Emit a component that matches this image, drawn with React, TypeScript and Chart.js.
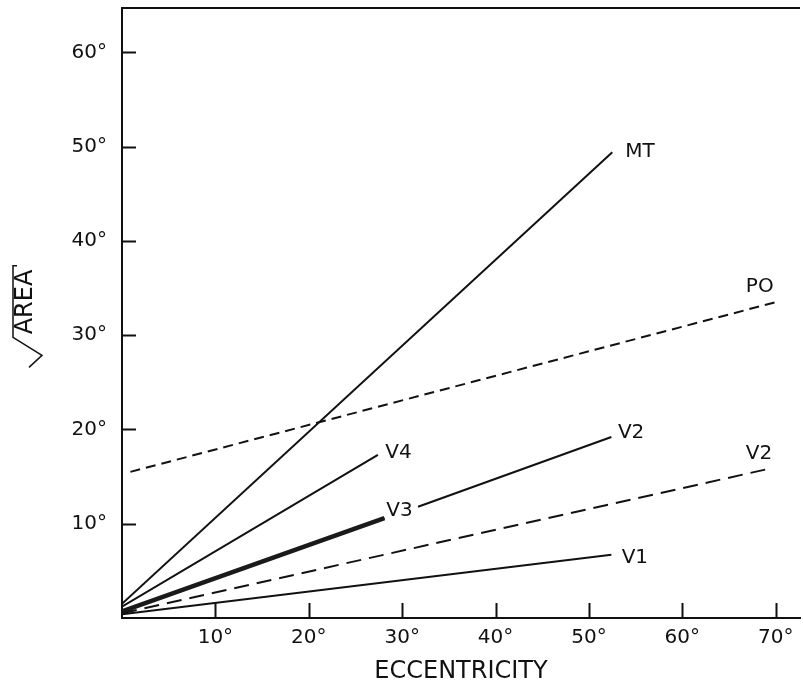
import React, { useEffect, useRef } from 'react';
import { Chart, registerables } from 'chart.js';

Chart.register(...registerables);

// Axis ranges and ticks (degrees)
const xMin = 0;
const xMax = 72.6;
const yMin = 0;
const yMax = 64.7;
const tickStep = 10;

// Series (eccentricity in deg, sqrt(area) in deg)
const mtX = [0, 52.5];
const mtY = [1.5, 49.4];
const poX = [0.9, 70];
const poY = [15.5, 33.5];
const v4X = [0, 27.4];
const v4Y = [1.2, 17.3];
const v3X = [0, 28.1];
const v3Y = [0.7, 10.6];
const v2X = [0, 28.1, 30, 31.7, 52.4];
const v2Y: (number | null)[] = [0.7, 10.6, null, 11.8, 19.2];
const v2dX = [0, 69.6];
const v2dY = [0.5, 15.9];
const v1X = [0, 52.4];
const v1Y = [0.4, 6.7];

// Line labels
const labelTexts = ['MT', 'PO', 'V4', 'V3', 'V2', 'V2', 'V1'];
const labelXs = [53.9, 66.8, 28.2, 28.3, 53.1, 66.8, 53.5];
const labelYs = [49.5, 35.1, 17.5, 11.4, 19.6, 17.4, 6.4];

const xTitle = 'ECCENTRICITY';
const yTitle = 'AREA';

const FONT = '"DejaVu Sans", "Liberation Sans", sans-serif';
const INK = '#111111';

const pts = (xs: number[], ys: (number | null)[]) => xs.map((x, i) => ({ x, y: ys[i] }));

const decorPlugin = {
  id: 'decor',
  afterDraw(chart: any) {
    const ctx = chart.ctx as CanvasRenderingContext2D;
    const { left, right, top, bottom } = chart.chartArea;
    const xs = chart.scales.x;
    const ys = chart.scales.y;
    ctx.save();
    ctx.strokeStyle = INK;
    ctx.lineWidth = 2;
    ctx.lineCap = 'butt';
    // top frame line
    ctx.beginPath();
    ctx.moveTo(left - 1, top);
    ctx.lineTo(right, top);
    ctx.stroke();
    // inward tick marks
    ctx.beginPath();
    xs.ticks.forEach((t: any) => {
      if (t.value === 0) return;
      const px = Math.round(xs.getPixelForValue(t.value)) + 0.5;
      ctx.moveTo(px, bottom);
      ctx.lineTo(px, bottom - 15);
    });
    ys.ticks.forEach((t: any) => {
      if (t.value === 0) return;
      const py = Math.round(ys.getPixelForValue(t.value)) + 0.5;
      ctx.moveTo(left, py);
      ctx.lineTo(left + 14, py);
    });
    ctx.stroke();
    // series labels
    ctx.fillStyle = INK;
    ctx.font = `20px ${FONT}`;
    ctx.textAlign = 'left';
    ctx.textBaseline = 'middle';
    labelTexts.forEach((t, i) => {
      ctx.fillText(t, xs.getPixelForValue(labelXs[i]), ys.getPixelForValue(labelYs[i]));
    });
    // y title with radical sign
    const cy = (top + bottom) / 2;
    ctx.translate(25, cy);
    ctx.rotate(-Math.PI / 2);
    ctx.font = `24px ${FONT}`;
    ctx.textAlign = 'center';
    ctx.textBaseline = 'middle';
    const tx = 11;
    const w = ctx.measureText(yTitle).width;
    ctx.fillText(yTitle, tx, 1);
    const x0 = tx - w / 2 - 3;
    const x1 = tx + w / 2 + 4;
    const yTop = -12;
    ctx.lineWidth = 1.5;
    ctx.beginPath();
    ctx.moveTo(x0 - 30, 4);
    ctx.lineTo(x0 - 18, 17);
    ctx.lineTo(x0, yTop);
    ctx.lineTo(x1, yTop);
    ctx.lineTo(x1, yTop + 4);
    ctx.stroke();
    ctx.restore();
  },
};

const zeroPad = (s: any) => {
  s.paddingTop = 0;
  s.paddingBottom = 0;
  s.paddingLeft = 0;
  s.paddingRight = 0;
};

export default function App() {
  const ref = useRef<HTMLCanvasElement | null>(null);
  useEffect(() => {
    if (!ref.current) return;
    const base = { pointRadius: 0, borderColor: INK, fill: false, tension: 0, spanGaps: false };
    const chart = new Chart(ref.current, {
      type: 'line',
      data: {
        datasets: [
          { ...base, label: 'MT', data: pts(mtX, mtY), borderWidth: 2 },
          { ...base, label: 'PO', data: pts(poX, poY), borderWidth: 2, borderDash: [10, 6] },
          { ...base, label: 'V4', data: pts(v4X, v4Y), borderWidth: 2 },
          { ...base, label: 'V3', data: pts(v3X, v3Y), borderWidth: 4.5, borderColor: '#1a1a1a' },
          { ...base, label: 'V3 hatch', data: pts(v3X, v3Y), borderWidth: 1.2, borderColor: '#9a9a9a', borderDash: [3, 2] },
          { ...base, label: 'V2', data: pts(v2X, v2Y), borderWidth: 2 },
          { ...base, label: 'V2 (dashed)', data: pts(v2dX, v2dY), borderWidth: 2, borderDash: [15, 8] },
          { ...base, label: 'V1', data: pts(v1X, v1Y), borderWidth: 2 },
        ] as any,
      },
      options: {
        responsive: false,
        animation: false,
        layout: { autoPadding: false, padding: { top: 8, right: 3, left: 0, bottom: 0 } },
        plugins: { legend: { display: false }, tooltip: { enabled: false } },
        scales: {
          x: {
            type: 'linear',
            min: xMin,
            max: xMax,
            afterFit: (s: any) => { s.height = 72; zeroPad(s); },
            grid: { display: true, drawOnChartArea: false, drawTicks: false },
            border: { display: true, color: INK, width: 2 },
            ticks: {
              stepSize: tickStep,
              includeBounds: false,
              autoSkip: false,
              maxRotation: 0,
              padding: 8,
              color: INK,
              font: { family: FONT, size: 20 },
              callback: (v: any) => (v === 0 ? '' : `${v}°`),
            },
            title: {
              display: true,
              text: xTitle,
              color: INK,
              font: { family: FONT, size: 24 },
              padding: { top: 0, bottom: 4 },
            },
          },
          y: {
            type: 'linear',
            min: yMin,
            max: yMax,
            afterFit: (s: any) => { s.width = 122; zeroPad(s); },
            grid: { display: true, drawOnChartArea: false, drawTicks: false },
            border: { display: true, color: INK, width: 2 },
            ticks: {
              stepSize: tickStep,
              includeBounds: false,
              autoSkip: false,
              padding: 15,
              color: INK,
              font: { family: FONT, size: 20 },
              callback: (v: any) => (v === 0 ? '' : `${v}°`),
            },
          },
        },
      },
      plugins: [decorPlugin],
    });
    return () => chart.destroy();
  }, []);
  return (
    <div style={{ position: 'fixed', left: 0, top: 0, width: 803, height: 690, background: '#ffffff' }}>
      <canvas ref={ref} width={803} height={690} style={{ display: 'block' }} />
    </div>
  );
}
